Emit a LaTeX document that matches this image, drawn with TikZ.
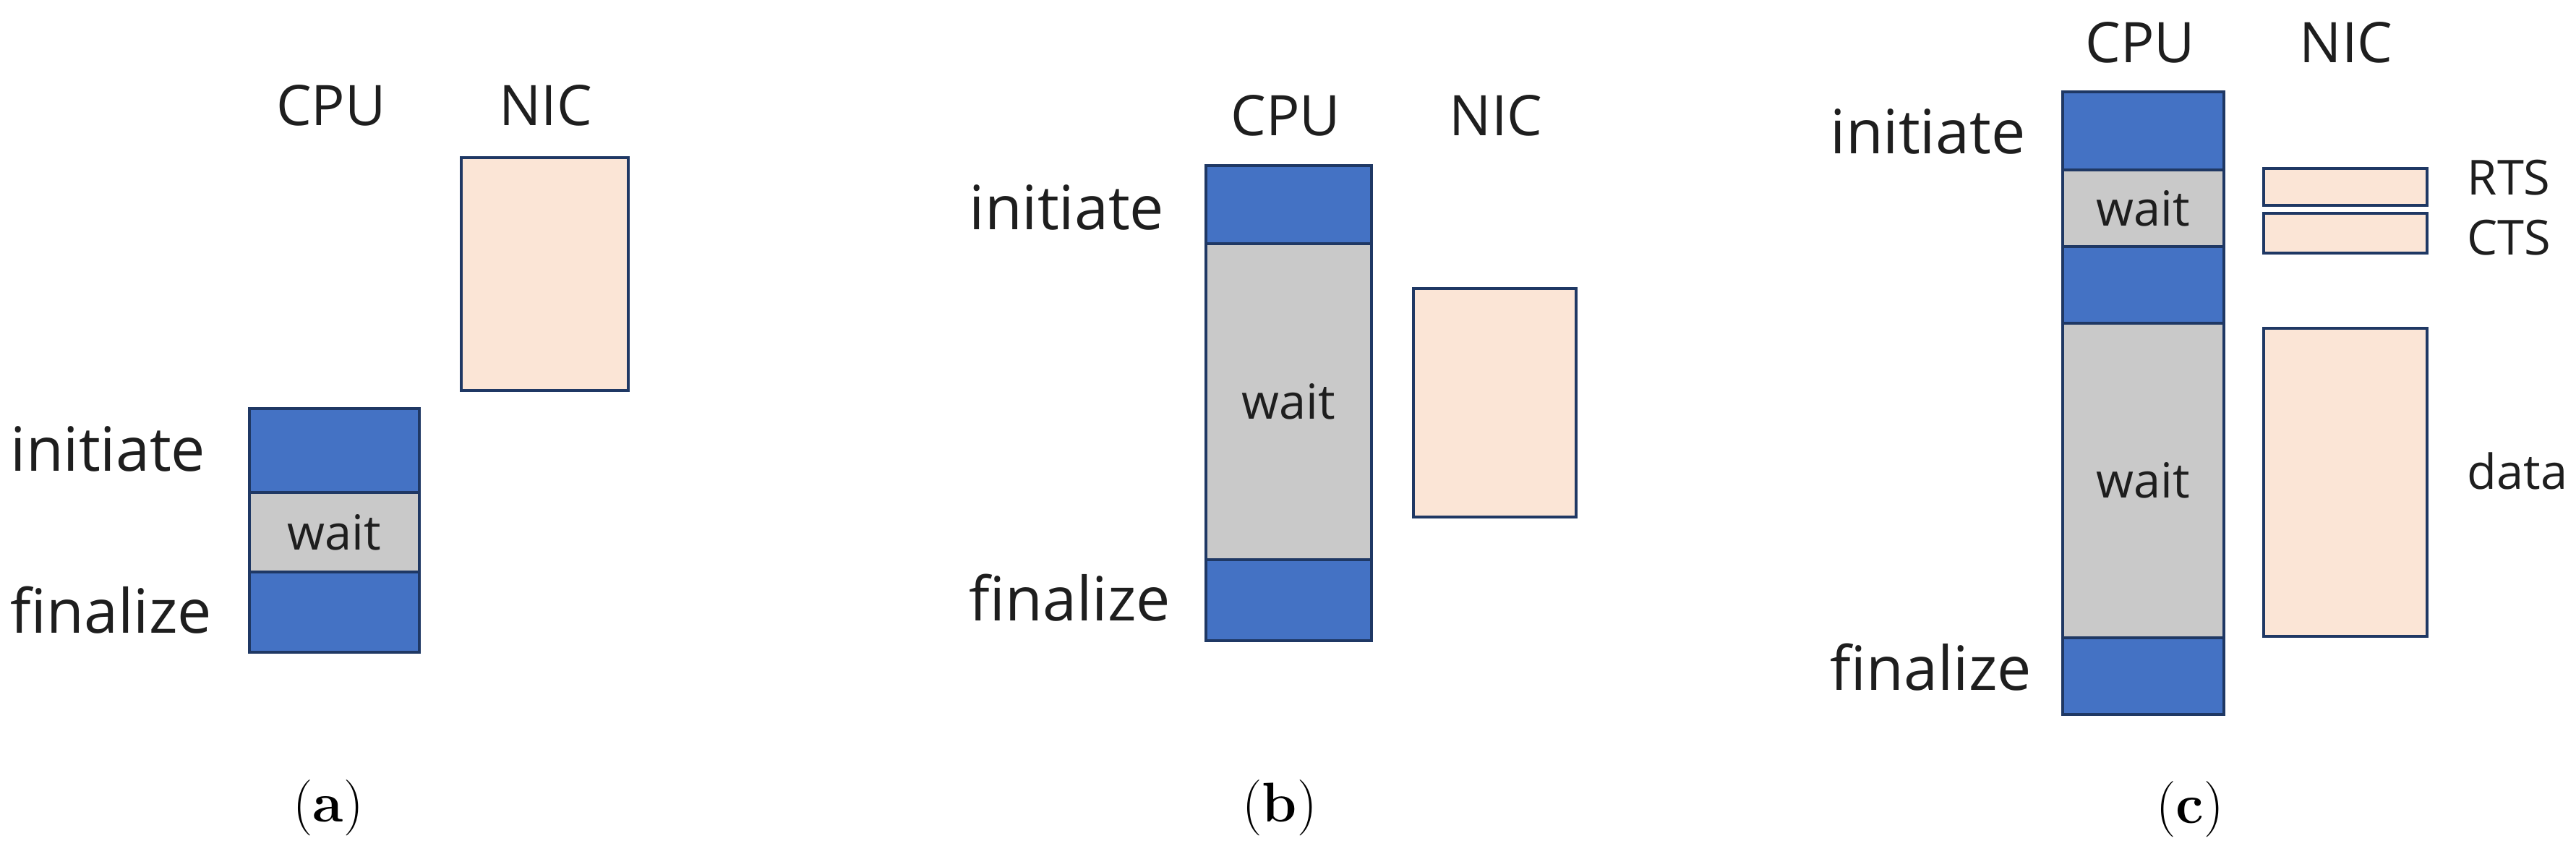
\documentclass[tikz,border=0pt]{standalone}
\usepackage{fontspec}
\newfontfamily\lblfont{Open Sans}
\usetikzlibrary{positioning}
\definecolor{cpublue}{HTML}{4472C4}
\definecolor{waitgray}{HTML}{C9C9C9}
\definecolor{nicpeach}{HTML}{FBE5D6}
\definecolor{edgeblue}{HTML}{1F3864}
\definecolor{txtgray}{HTML}{1E1E1E}
\tikzset{
	blk/.style={draw=edgeblue, line width=1pt, inner sep=0pt, outer sep=0pt, text=txtgray, font=\lblfont\fontsize{19}{22}\selectfont},
	cpublk/.style={blk, fill=cpublue},
	waitblk/.style={blk, fill=waitgray},
	nicblk/.style={blk, fill=nicpeach, anchor=north west},
	phaselbl/.style={font=\lblfont\fontsize{24}{28}\selectfont, text=txtgray, inner sep=0pt, anchor=west},
	unitlbl/.style={font=\lblfont\fontsize{22}{26}\selectfont, text=txtgray, inner sep=0pt, anchor=base},
	msglbl/.style={font=\lblfont\fontsize{19}{22}\selectfont, text=txtgray, inner sep=0pt, anchor=west},
	subcap/.style={font=\fontsize{22}{26}\selectfont, inner sep=0pt}
}
\begin{document}
\begin{tikzpicture}[x=1cm, y=1cm]
		\useasboundingbox (0,0) rectangle (35.63,11.81);
		% (a)
		\node[unitlbl] (cpuA) at (4.58,10.07) {CPU};
		\node[unitlbl] (nicA) at (7.55,10.07) {NIC};
		\node[nicblk, minimum width=2.31cm, minimum height=3.22cm] (xferA) at (6.38,9.63) {};
		\node[cpublk, minimum width=2.35cm, minimum height=1.16cm, anchor=north west] (initA) at (3.45,6.16) {};
		\node[waitblk, minimum width=2.35cm, minimum height=1.10cm, below=0pt of initA] (waitA) {wait};
		\node[cpublk, minimum width=2.35cm, minimum height=1.11cm, below=0pt of waitA] (finA) {};
		\node[phaselbl] (initlblA) at (0.14,5.60) {initiate};
		\node[phaselbl] (finlblA) at (0.14,3.37) {finalize};
		\node[subcap] (capA) at (4.54,0.64) {(\textbf{a})};
		% (b)
		\node[unitlbl] (cpuB) at (17.78,9.93) {CPU};
		\node[unitlbl] (nicB) at (20.69,9.93) {NIC};
		\node[nicblk, minimum width=2.25cm, minimum height=3.16cm] (xferB) at (19.55,7.82) {};
		\node[cpublk, minimum width=2.29cm, minimum height=1.08cm, anchor=north west] (initB) at (16.68,9.52) {};
		\node[waitblk, minimum width=2.29cm, minimum height=4.37cm, below=0pt of initB] (waitB) {wait};
		\node[cpublk, minimum width=2.29cm, minimum height=1.12cm, below=0pt of waitB] (finB) {};
		\node[phaselbl] (initlblB) at (13.40,8.94) {initiate};
		\node[phaselbl] (finlblB) at (13.40,3.54) {finalize};
		\node[subcap] (capB) at (17.70,0.64) {(\textbf{b})};
		% (c)
		\node[unitlbl] (cpuC) at (29.60,10.94) {CPU};
		\node[unitlbl] (nicC) at (32.45,10.94) {NIC};
		\node[cpublk, minimum width=2.23cm, minimum height=1.08cm, anchor=north west] (initC) at (28.53,10.54) {};
		\node[waitblk, minimum width=2.23cm, minimum height=1.06cm, below=0pt of initC] (waitC) {wait};
		\node[cpublk, minimum width=2.23cm, minimum height=1.06cm, below=0pt of waitC] (midC) {};
		\node[waitblk, minimum width=2.23cm, minimum height=4.35cm, below=0pt of midC] (waitCC) {wait};
		\node[cpublk, minimum width=2.23cm, minimum height=1.06cm, below=0pt of waitCC] (finC) {};
		\node[nicblk, minimum width=2.26cm, minimum height=0.51cm] (rtsC) at (31.31,9.48) {};
		\node[nicblk, minimum width=2.26cm, minimum height=0.55cm] (ctsC) at (31.31,8.86) {};
		\node[nicblk, minimum width=2.26cm, minimum height=4.26cm] (dataC) at (31.31,7.27) {};
		\node[msglbl] (rtslblC) at (34.12,9.35) {RTS};
		\node[msglbl] (ctslblC) at (34.12,8.52) {CTS};
		\node[msglbl] (datalblC) at (34.12,5.30) {data};
		\node[phaselbl] (initlblC) at (25.31,9.99) {initiate};
		\node[phaselbl] (finlblC) at (25.31,2.58) {finalize};
		\node[subcap] (capC) at (30.29,0.62) {(\textbf{c})};
\end{tikzpicture}
\end{document}
